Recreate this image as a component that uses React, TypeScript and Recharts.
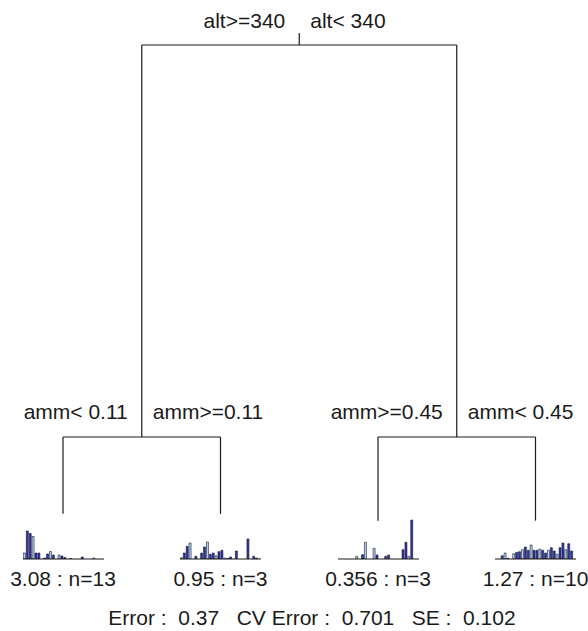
import React from 'react';
import { ComposedChart, XAxis, YAxis, ReferenceLine, Scatter, BarChart, Bar, Cell } from 'recharts';

// ---- data ----
const splitLeft = ['alt>=340', 'amm< 0.11', 'amm>=0.45'];
const splitRight = ['alt< 340', 'amm>=0.11', 'amm< 0.45'];
// relative error height of internal nodes: root, left child, right child
const nodeHeights = [1.0, 0.48, 0.48];
// leaf positions (leaf index) and heights
const leafIndex = [1, 2, 3, 4];
const leafHeights = [0.378, 0.378, 0.369, 0.369];
const leafLabels = ['3.08 : n=13', '0.95 : n=3', '0.356 : n=3', '1.27 : n=10'];
const summaryText = 'Error :  0.37   CV Error :  0.701   SE :  0.102';

// species abundance profiles of each leaf (28 species)
const leaf1 = [6, 28, 25.5, 22.5, 6, 6, 0, 1, 5, 7.5, 4, 0, 4, 3, 1.5, 0, 0.5, 0, 0, 0, 2, 0, 0, 0, 1, 0, 0, 0];
const leaf2 = [1.3, 6, 12.7, 16, 0, 2.7, 0, 6, 12, 17, 4.7, 6, 3.3, 7.3, 8.7, 1, 0.5, 2, 0, 8, 0, 0, 0, 20, 0, 2.7, 1, 0];
const leaf3 = [0, 0, 0, 0, 0, 0, 2.7, 0, 4.3, 16.7, 0, 0, 10.7, 4, 0, 0, 2.7, 4, 0, 0, 0, 0, 9.3, 16.7, 2.7, 39, 0, 0];
const leaf4 = [0, 0, 3.3, 6, 0.7, 0, 5.3, 6.7, 7.3, 9.3, 12, 8.7, 14, 8.7, 8.7, 10, 8.7, 6, 8.7, 11.3, 8, 4.7, 11.3, 16, 9.3, 15.3, 8, 0];
const leafProfiles = [leaf1, leaf2, leaf3, leaf4];

// ---- layout / style ----
const W = 588;
const H = 631;
const X_MIN = 0.6;
const X_MAX = 0.6 + W / 157.5;
const K = 753.8; // px per unit of error
const Y_MAX = 1 + 45 / K;
const Y_MIN = Y_MAX - H / K;
const ROOT_STUB = 12 / K;
const FONT = '"Liberation Sans", Arial, Helvetica, sans-serif';
const INK = '#1a1a1a';
const DARK = '#3434a6';
const LIGHT = '#b4dbe8';
const BAR_MAX = 40;
const BAR_W = 81;

const pxX = (x: number) => ((x - X_MIN) / (X_MAX - X_MIN)) * W;
const pxY = (y: number) => ((Y_MAX - y) / (Y_MAX - Y_MIN)) * H;

const n2x = (leafIndex[0] + leafIndex[1]) / 2;
const n3x = (leafIndex[2] + leafIndex[3]) / 2;
const rootX = (n2x + n3x) / 2;
const internalX = [rootX, n2x, n3x];

type Seg = [{ x: number; y: number }, { x: number; y: number }];
const segments: Seg[] = [
  [{ x: rootX, y: nodeHeights[0] }, { x: rootX, y: nodeHeights[0] + ROOT_STUB }],
  [{ x: n2x, y: nodeHeights[0] }, { x: n3x, y: nodeHeights[0] }],
  [{ x: n2x, y: nodeHeights[0] }, { x: n2x, y: nodeHeights[1] }],
  [{ x: n3x, y: nodeHeights[0] }, { x: n3x, y: nodeHeights[2] }],
  [{ x: leafIndex[0], y: nodeHeights[1] }, { x: leafIndex[1], y: nodeHeights[1] }],
  [{ x: leafIndex[2], y: nodeHeights[2] }, { x: leafIndex[3], y: nodeHeights[2] }],
  ...leafIndex.map((lx, i): Seg => [
    { x: lx, y: nodeHeights[i < 2 ? 1 : 2] },
    { x: lx, y: leafHeights[i] },
  ]),
];

const splitPoints = internalX.map((x, i) => ({
  x,
  y: nodeHeights[i],
  left: splitLeft[i],
  right: splitRight[i],
}));

const SplitLabel = (p: any) => {
  const { cx, cy, payload } = p;
  return (
    <g>
      <text x={cx - 14} y={cy - 25} textAnchor="end" dominantBaseline="central" fontSize={21} fontFamily={FONT} fill={INK}>
        {payload.left}
      </text>
      <text x={cx + 11} y={cy - 25} textAnchor="start" dominantBaseline="central" fontSize={21} fontFamily={FONT} fill={INK}>
        {payload.right}
      </text>
    </g>
  );
};

const LeafBars = ({ values, cx }: { values: number[]; cx: number }) => {
  const data = values.map((v, i) => ({ sp: i + 1, v }));
  return (
    <div style={{ position: 'absolute', left: cx - BAR_W / 2, top: 559 - BAR_MAX, width: BAR_W, height: BAR_MAX + 1 }}>
      <BarChart width={BAR_W} height={BAR_MAX + 1} data={data} margin={{ top: 0, right: 0, bottom: 0, left: 0 }} barCategoryGap="14%">
        <XAxis dataKey="sp" tick={false} tickLine={false} height={1} axisLine={{ stroke: INK, strokeWidth: 1.2 }} interval={0} />
        <YAxis hide domain={[0, BAR_MAX]} allowDataOverflow />
        <Bar dataKey="v" isAnimationActive={false} stroke="#15153a" strokeWidth={0.6}>
          {data.map((d, i) => (
            <Cell key={i} fill={i % 3 === 0 ? LIGHT : DARK} />
          ))}
        </Bar>
      </BarChart>
    </div>
  );
};

export default function App() {
  return (
    <div style={{ position: 'relative', width: W, height: H, background: '#fff', fontFamily: FONT }}>
      <style>{`body{margin:0;}`}</style>
      <div style={{ position: 'absolute', left: 0, top: 0 }}>
        <ComposedChart width={W} height={H} data={splitPoints} margin={{ top: 0, right: 0, bottom: 0, left: 0 }}>
          <XAxis type="number" dataKey="x" hide domain={[X_MIN, X_MAX]} allowDataOverflow />
          <YAxis type="number" hide domain={[Y_MIN, Y_MAX]} allowDataOverflow />
          {segments.map((s, i) => (
            <ReferenceLine key={i} segment={s} stroke={INK} strokeWidth={1.2} ifOverflow="visible" />
          ))}
          <Scatter data={splitPoints} dataKey="y" isAnimationActive={false} shape={SplitLabel} />
        </ComposedChart>
      </div>
      {leafProfiles.map((vals, i) => (
        <LeafBars key={i} values={vals} cx={pxX(leafIndex[i])} />
      ))}
      {leafLabels.map((lab, i) => (
        <div
          key={i}
          style={{
            position: 'absolute',
            left: pxX(leafIndex[i]) - 80,
            width: 160,
            top: 579 - 12,
            height: 24,
            lineHeight: '24px',
            textAlign: 'center',
            fontSize: 21,
            color: INK,
            whiteSpace: 'nowrap',
          }}
        >
          {lab}
        </div>
      ))}
      <div
        style={{
          position: 'absolute',
          left: 312 - 250,
          width: 500,
          top: 618 - 12,
          height: 24,
          lineHeight: '24px',
          textAlign: 'center',
          fontSize: 21,
          color: INK,
          whiteSpace: 'pre',
        }}
      >
        {summaryText}
      </div>
    </div>
  );
}
